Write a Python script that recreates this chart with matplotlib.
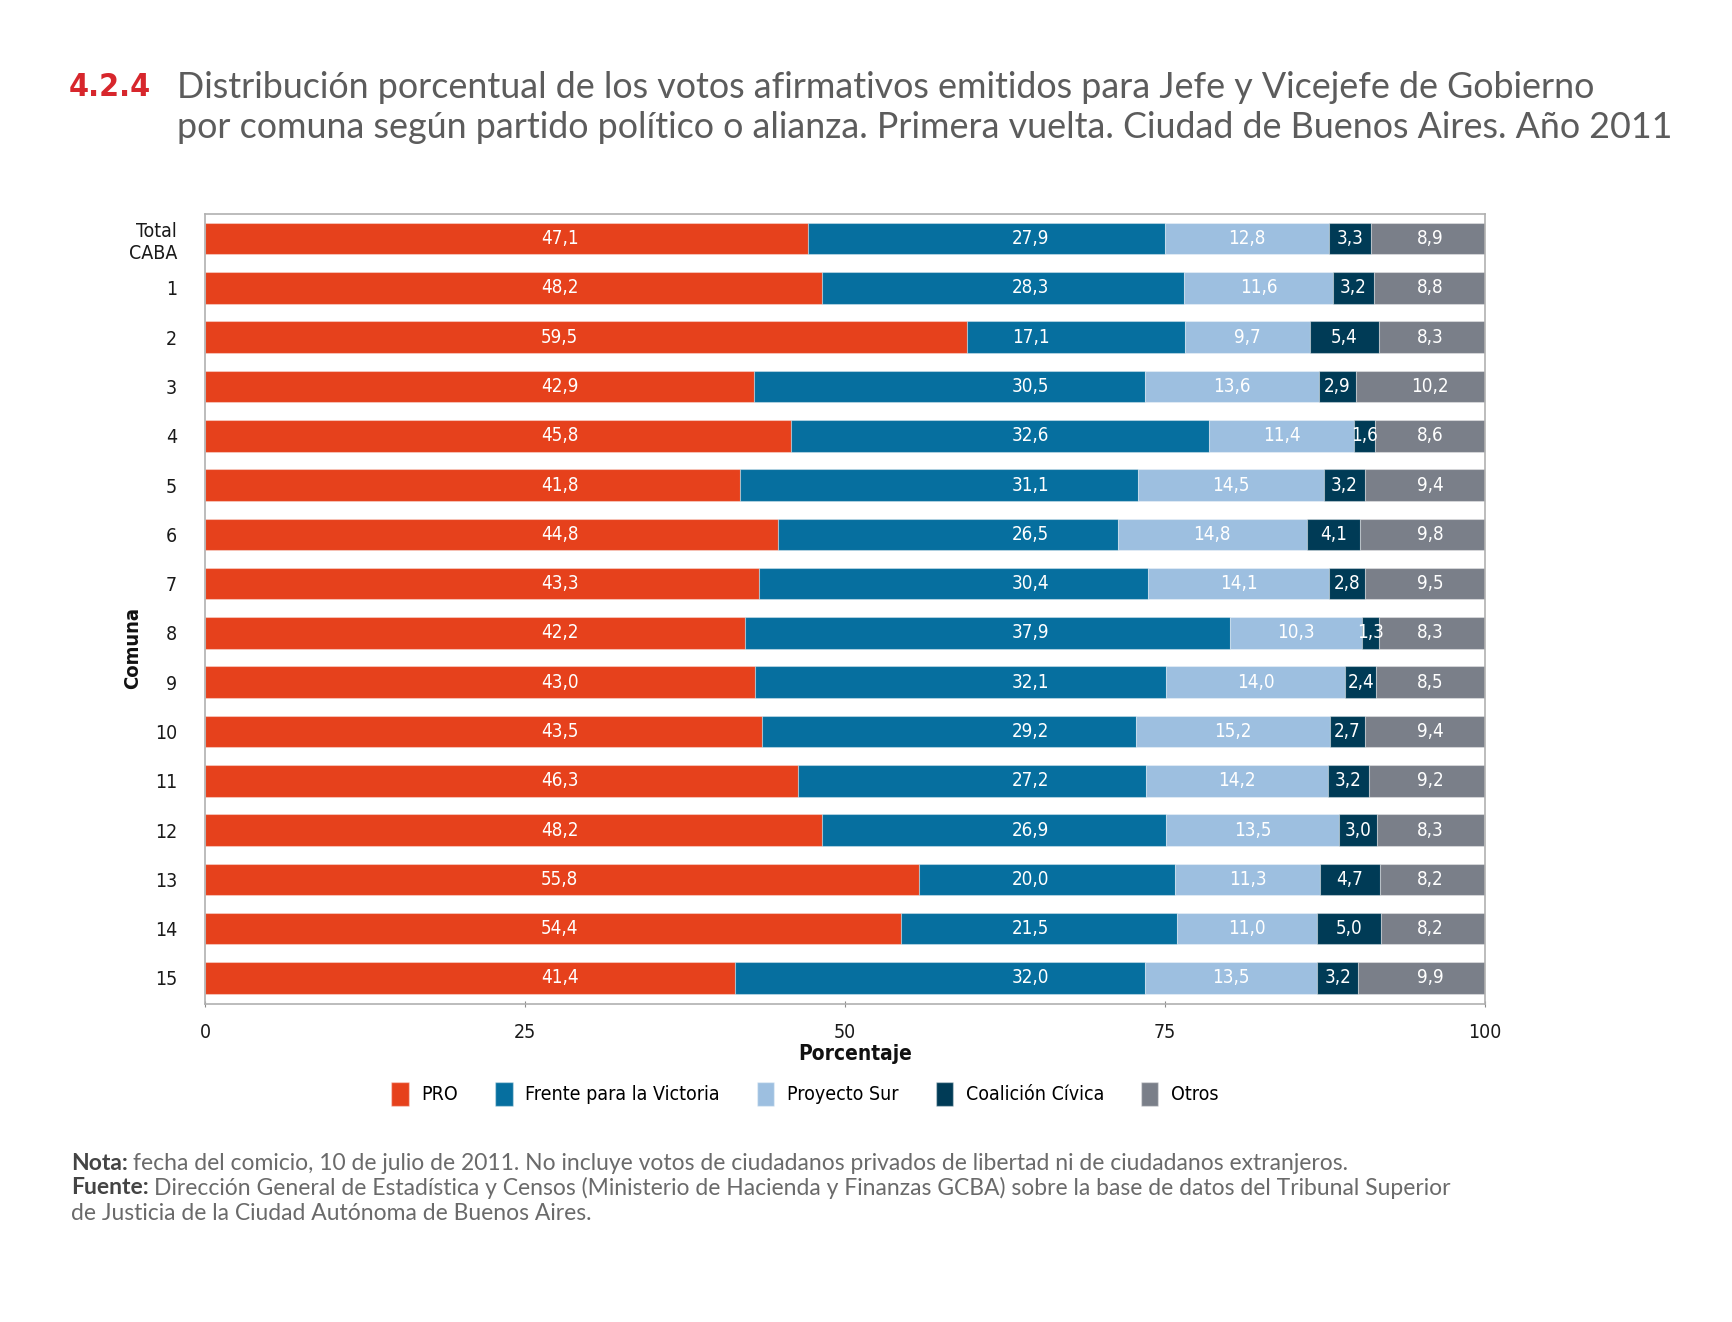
import matplotlib
matplotlib.use("Agg")
import matplotlib.pyplot as plt
from matplotlib.patches import Patch
from matplotlib.font_manager import FontProperties
import numpy as np

categories = ["Total\nCABA", "1", "2", "3", "4", "5", "6", "7", "8", "9", "10",
              "11", "12", "13", "14", "15"]
series_names = ["PRO", "Frente para la Victoria", "Proyecto Sur", "Coalición Cívica", "Otros"]
pro = [47.1, 48.2, 59.5, 42.9, 45.8, 41.8, 44.8, 43.3, 42.2, 43.0, 43.5, 46.3, 48.2, 55.8, 54.4, 41.4]
fpv = [27.9, 28.3, 17.1, 30.5, 32.6, 31.1, 26.5, 30.4, 37.9, 32.1, 29.2, 27.2, 26.9, 20.0, 21.5, 32.0]
psur = [12.8, 11.6, 9.7, 13.6, 11.4, 14.5, 14.8, 14.1, 10.3, 14.0, 15.2, 14.2, 13.5, 11.3, 11.0, 13.5]
cc = [3.3, 3.2, 5.4, 2.9, 1.6, 3.2, 4.1, 2.8, 1.3, 2.4, 2.7, 3.2, 3.0, 4.7, 5.0, 3.2]
otros = [8.9, 8.8, 8.3, 10.2, 8.6, 9.4, 9.8, 9.5, 8.3, 8.5, 9.4, 9.2, 8.3, 8.2, 8.2, 9.9]
xticks = [0, 25, 50, 75, 100]

colors = ["#E6411C", "#066F9F", "#9DBFE0", "#003B56", "#7A7F89"]

COND = "DejaVu Sans"
ST = "condensed"
THIN = ["Lato", "DejaVu Sans"]

W, H = 1732, 1322
fig = plt.figure(figsize=(W / 100, H / 100), dpi=100)
ax = fig.add_axes([205 / W, 1 - 1004 / H, 1280 / W, (1004 - 214) / H])

data = [pro, fpv, psur, cc, otros]
y = np.arange(len(categories))
left = np.zeros(len(categories))
bar_h = 0.64
for vals, col, name in zip(data, colors, series_names):
    vals = np.array(vals)
    ax.barh(y, vals, left=left, height=bar_h, color=col, edgecolor=(1, 1, 1, 0.35),
            linewidth=0.8, label=name)
    left = left + vals

# data labels
left = np.zeros(len(categories))
fixed_x = [27.7, 64.5, None, None, 95.7]
for k, vals in enumerate(data):
    for i, v in enumerate(vals):
        xc = fixed_x[k] if fixed_x[k] is not None else left[i] + v / 2
        ax.text(xc, y[i], f"{v:.1f}".replace(".", ","), ha="center", va="center",
                color="white", fontsize=13.5, family=COND, fontstretch=ST)
    left = left + np.array(vals)

ax.set_xlim(0, 100)
ax.set_ylim(len(categories) - 0.47, -0.5)
ax.set_xticks(xticks)
ax.set_xticklabels([str(t) for t in xticks], family=COND, fontstretch=ST, fontsize=14, color="#1A1A1A")
ax.set_yticks(y)
ax.set_yticklabels(categories, family=COND, fontstretch=ST, fontsize=14, color="#1A1A1A",
                   linespacing=1.2, multialignment="right")
ax.tick_params(axis="y", length=0, pad=20)
ax.tick_params(axis="x", length=5, direction="inout", color="#8A8A8A", pad=11)
for s in ax.spines.values():
    s.set_color("#B0B0B0")
    s.set_linewidth(1.2)

# axis titles
fig.text(855 / W, 1 - 1054 / H, "Porcentaje", ha="center", va="center",
         fontsize=15, fontweight="bold", family=COND, fontstretch=ST, color="#111111")
fig.text(133 / W, 1 - 648 / H, "Comuna", ha="center", va="center", rotation=90,
         fontsize=14.5, fontweight="bold", family=COND, fontstretch=ST, color="#111111")

# legend
handles = [Patch(facecolor=c, edgecolor=(1, 1, 1, 0.4), label=n) for c, n in zip(colors, series_names)]
fig.legend(handles=handles, loc="center", bbox_to_anchor=(805 / W, 1 - 1094 / H), ncol=5,
           frameon=False, handlelength=0.9, handleheight=1.55, handletextpad=0.65,
           columnspacing=1.9, prop=FontProperties(family=COND, stretch=ST, size=14))

# title
fig.text(69 / W, 1 - 88 / H, "4.2.4", ha="left", va="center", fontsize=23,
         fontweight="bold", family=COND, fontstretch=ST, color="#D7262C")
fig.text(177 / W, 1 - 88 / H, "Distribución porcentual de los votos afirmativos emitidos para Jefe y Vicejefe de Gobierno",
         ha="left", va="center", fontsize=25.8, fontweight="normal", family=THIN, color="#5C5C5C")
fig.text(177 / W, 1 - 128 / H, "por comuna según partido político o alianza. Primera vuelta. Ciudad de Buenos Aires. Año 2011",
         ha="left", va="center", fontsize=25.8, fontweight="normal", family=THIN, color="#5C5C5C")

# notes
renderer = fig.canvas.get_renderer()
def note(yp, bold, rest):
    x0 = 71 / W
    if bold:
        t = fig.text(x0, yp, bold, ha="left", va="center", fontsize=16.5, fontweight="bold",
                     family=THIN, color="#444444")
        bb = t.get_window_extent(renderer=renderer)
        x0 = (bb.x1 + 5) / W
    fig.text(x0, yp, rest, ha="left", va="center", fontsize=16.5, fontweight="normal",
             family=THIN, color="#6A6A6A")

note(1 - 1163 / H, "Nota:", "fecha del comicio, 10 de julio de 2011. No incluye votos de ciudadanos privados de libertad ni de ciudadanos extranjeros.")
note(1 - 1188 / H, "Fuente:", "Dirección General de Estadística y Censos (Ministerio de Hacienda y Finanzas GCBA) sobre la base de datos del Tribunal Superior")
note(1 - 1213 / H, None, "de Justicia de la Ciudad Autónoma de Buenos Aires.")

fig.savefig("out.png", dpi=100)
